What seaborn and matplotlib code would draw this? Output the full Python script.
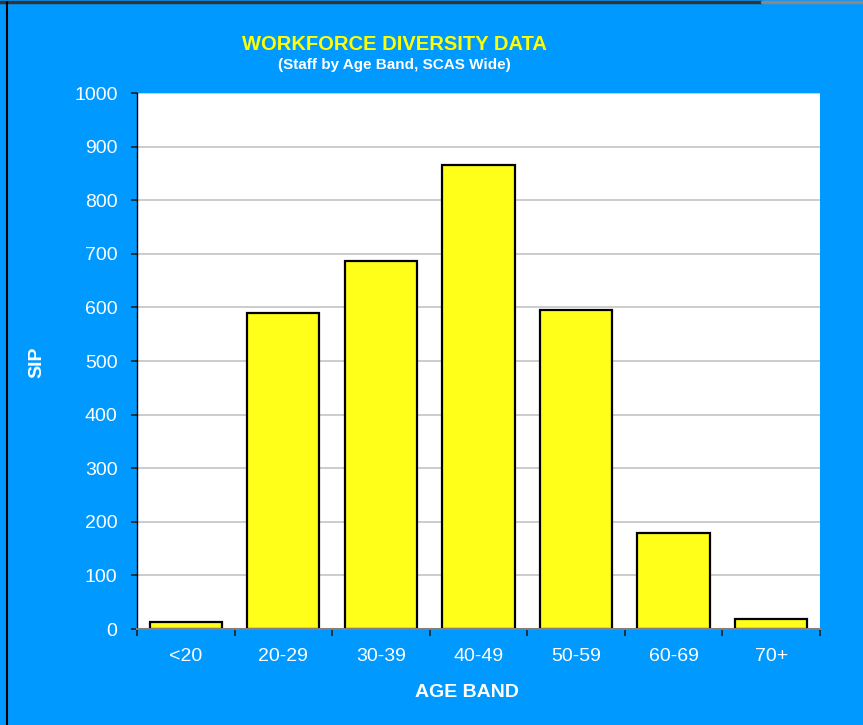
import numpy as np
import pandas as pd
import seaborn as sns
import matplotlib.pyplot as plt
from matplotlib.lines import Line2D

age_bands = ['<20', '20-29', '30-39', '40-49', '50-59', '60-69', '70+']
staff = [13, 589, 687, 865, 596, 179, 18]
yticks = [0, 100, 200, 300, 400, 500, 600, 700, 800, 900, 1000]

df = pd.DataFrame({'band': age_bands, 'staff': staff})

sns.set_theme(style='white')
plt.rcParams['font.family'] = ['Liberation Sans', 'DejaVu Sans']

blue = '#0099FF'
fig = plt.figure(figsize=(8.63, 7.25), dpi=100, facecolor=blue)
ax = fig.add_axes([0.1587, 0.1324, 0.7914, 0.7393])
ax.set_facecolor('white')

sns.barplot(data=df, x='band', y='staff', order=age_bands, color='#FFFF19',
            edgecolor='black', linewidth=1.6, width=0.74, saturation=1, ax=ax)

ax.set_ylim(0, 1000)
ax.set_xlim(-0.5, len(age_bands) - 0.5)
ax.set_yticks(yticks)
ax.yaxis.grid(True, color='#C8C8C8', linewidth=1.3)
ax.set_axisbelow(True)

# category boundary ticks on x axis
ax.set_xticks(np.arange(-0.5, len(age_bands)), minor=True)
ax.tick_params(axis='x', which='major', length=0, pad=14, labelsize=14, colors='white')
ax.tick_params(axis='x', which='minor', length=5, width=1.2, color='#202020', direction='out', bottom=True)
ax.tick_params(axis='y', length=4, width=1.2, color='#202020', direction='out', left=True,
               labelsize=14, labelcolor='white', pad=10)

for side in ['top', 'right']:
    ax.spines[side].set_visible(False)
ax.spines['left'].set_color('black')
ax.spines['left'].set_linewidth(1.0)
ax.spines['bottom'].set_color('#808080')
ax.spines['bottom'].set_linewidth(1.5)

ax.set_xlabel('AGE BAND', fontsize=14, fontweight='bold', color='white', va='top')
ax.xaxis.set_label_coords(0.483, -0.102)
ax.set_ylabel('SIP', fontsize=14, fontweight='bold', color='white', va='center', ha='center')
ax.yaxis.set_label_coords(-0.146, 0.498)

fig.text(0.457, 0.939, 'WORKFORCE DIVERSITY DATA', fontsize=14.5, fontweight='bold',
         color='#FFFF00', ha='center', va='center')
fig.text(0.457, 0.911, '(Staff by Age Band, SCAS Wide)', fontsize=11, fontweight='bold',
         color='white', ha='center', va='center')

# frame edges of the original chart
fig.add_artist(Line2D([0.0, 0.883], [0.997, 0.997], color='#333333', linewidth=2.5))
fig.add_artist(Line2D([0.883, 1.0], [0.997, 0.997], color='#888888', linewidth=2.5))
fig.add_artist(Line2D([0.0085, 0.0085], [0.0, 0.997], color='black', linewidth=1.5))

fig.savefig('out.png', dpi=100, facecolor=blue)
